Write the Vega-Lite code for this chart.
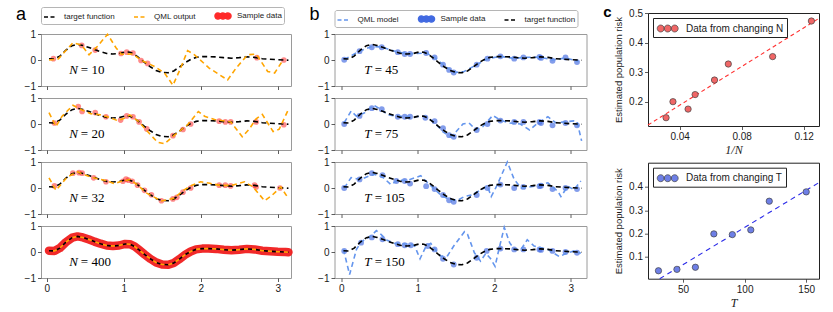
{
"$schema": "https://vega.github.io/schema/vega-lite/v6.json",
"padding": {"left": 15, "top": 4, "right": 5, "bottom": 2},
"background": "white",
"config": {
  "font": "Liberation Sans",
  "view": {"stroke": "#9a9a9a", "strokeWidth": 1},
  "axis": {"labelFont": "Liberation Sans", "labelFontSize": 10, "labelColor": "#1a1a1a", "tickColor": "#333333", "tickSize": 3.5, "tickWidth": 0.8, "domain": false, "grid": false, "labelPadding": 2, "titleColor": "#1a1a1a", "labelOverlap": false, "labelFlush": false},
  "legend": {"labelFont": "Liberation Sans", "labelColor": "#1a1a1a"}
},
"datasets": {
  "target": [
    {"x":0.03,"y":0.05,"s":"target function"},{"x":0.1,"y":0.04,"s":"target function"},{"x":0.17,"y":0.15,"s":"target function"},{"x":0.25,"y":0.38,"s":"target function"},{"x":0.33,"y":0.55,"s":"target function"},{"x":0.4,"y":0.6,"s":"target function"},{"x":0.47,"y":0.56,"s":"target function"},{"x":0.55,"y":0.48,"s":"target function"},{"x":0.62,"y":0.4,"s":"target function"},{"x":0.7,"y":0.32,"s":"target function"},{"x":0.78,"y":0.25,"s":"target function"},{"x":0.86,"y":0.23,"s":"target function"},{"x":0.94,"y":0.25,"s":"target function"},{"x":1.02,"y":0.31,"s":"target function"},{"x":1.08,"y":0.3,"s":"target function"},{"x":1.14,"y":0.22,"s":"target function"},{"x":1.2,"y":0.08,"s":"target function"},{"x":1.27,"y":-0.09,"s":"target function"},{"x":1.35,"y":-0.27,"s":"target function"},{"x":1.42,"y":-0.4,"s":"target function"},{"x":1.5,"y":-0.48,"s":"target function"},{"x":1.58,"y":-0.49,"s":"target function"},{"x":1.65,"y":-0.42,"s":"target function"},{"x":1.72,"y":-0.28,"s":"target function"},{"x":1.8,"y":-0.1,"s":"target function"},{"x":1.87,"y":0.02,"s":"target function"},{"x":1.94,"y":0.1,"s":"target function"},{"x":2.02,"y":0.13,"s":"target function"},{"x":2.1,"y":0.13,"s":"target function"},{"x":2.2,"y":0.12,"s":"target function"},{"x":2.3,"y":0.09,"s":"target function"},{"x":2.4,"y":0.07,"s":"target function"},{"x":2.5,"y":0.09,"s":"target function"},{"x":2.6,"y":0.12,"s":"target function"},{"x":2.7,"y":0.1,"s":"target function"},{"x":2.8,"y":0.05,"s":"target function"},{"x":2.9,"y":0.03,"s":"target function"},{"x":3.0,"y":0.01,"s":"target function"},{"x":3.1,"y":0.0,"s":"target function"},{"x":3.14,"y":-0.01,"s":"target function"}
  ],
  "aq": [
    {"p":"N10","x":0.03,"y":0.0,"s":"QML output"},{"p":"N10","x":0.15,"y":0.04,"s":"QML output"},{"p":"N10","x":0.34,"y":0.66,"s":"QML output"},{"p":"N10","x":0.45,"y":0.58,"s":"QML output"},{"p":"N10","x":0.55,"y":0.2,"s":"QML output"},{"p":"N10","x":0.66,"y":0.53,"s":"QML output"},{"p":"N10","x":0.79,"y":0.99,"s":"QML output"},{"p":"N10","x":0.9,"y":0.47,"s":"QML output"},{"p":"N10","x":0.97,"y":0.22,"s":"QML output"},{"p":"N10","x":1.12,"y":0.23,"s":"QML output"},{"p":"N10","x":1.22,"y":0.0,"s":"QML output"},{"p":"N10","x":1.4,"y":-0.25,"s":"QML output"},{"p":"N10","x":1.53,"y":-0.5,"s":"QML output"},{"p":"N10","x":1.64,"y":-0.97,"s":"QML output"},{"p":"N10","x":1.74,"y":-0.31,"s":"QML output"},{"p":"N10","x":1.83,"y":0.36,"s":"QML output"},{"p":"N10","x":1.92,"y":0.2,"s":"QML output"},{"p":"N10","x":2.11,"y":-0.31,"s":"QML output"},{"p":"N10","x":2.35,"y":-0.77,"s":"QML output"},{"p":"N10","x":2.46,"y":-0.31,"s":"QML output"},{"p":"N10","x":2.61,"y":0.2,"s":"QML output"},{"p":"N10","x":2.72,"y":0.23,"s":"QML output"},{"p":"N10","x":2.87,"y":-0.44,"s":"QML output"},{"p":"N10","x":2.96,"y":-0.5,"s":"QML output"},{"p":"N10","x":3.07,"y":0.0,"s":"QML output"},
    {"p":"N20","x":0.03,"y":0.44,"s":"QML output"},{"p":"N20","x":0.12,"y":-0.1,"s":"QML output"},{"p":"N20","x":0.2,"y":0.3,"s":"QML output"},{"p":"N20","x":0.34,"y":0.72,"s":"QML output"},{"p":"N20","x":0.45,"y":0.55,"s":"QML output"},{"p":"N20","x":0.57,"y":0.4,"s":"QML output"},{"p":"N20","x":0.7,"y":0.35,"s":"QML output"},{"p":"N20","x":0.83,"y":0.24,"s":"QML output"},{"p":"N20","x":0.92,"y":0.13,"s":"QML output"},{"p":"N20","x":1.0,"y":0.21,"s":"QML output"},{"p":"N20","x":1.08,"y":0.35,"s":"QML output"},{"p":"N20","x":1.2,"y":0.08,"s":"QML output"},{"p":"N20","x":1.31,"y":-0.29,"s":"QML output"},{"p":"N20","x":1.44,"y":-0.7,"s":"QML output"},{"p":"N20","x":1.53,"y":-0.76,"s":"QML output"},{"p":"N20","x":1.66,"y":-0.43,"s":"QML output"},{"p":"N20","x":1.83,"y":-0.03,"s":"QML output"},{"p":"N20","x":1.97,"y":0.48,"s":"QML output"},{"p":"N20","x":2.05,"y":0.3,"s":"QML output"},{"p":"N20","x":2.18,"y":0.17,"s":"QML output"},{"p":"N20","x":2.39,"y":0.08,"s":"QML output"},{"p":"N20","x":2.54,"y":-0.49,"s":"QML output"},{"p":"N20","x":2.63,"y":-0.2,"s":"QML output"},{"p":"N20","x":2.72,"y":0.2,"s":"QML output"},{"p":"N20","x":2.8,"y":0.37,"s":"QML output"},{"p":"N20","x":2.94,"y":-0.29,"s":"QML output"},{"p":"N20","x":3.02,"y":-0.2,"s":"QML output"},{"p":"N20","x":3.13,"y":0.5,"s":"QML output"},
    {"p":"N32","x":0.03,"y":0.39,"s":"QML output"},{"p":"N32","x":0.12,"y":-0.09,"s":"QML output"},{"p":"N32","x":0.27,"y":0.43,"s":"QML output"},{"p":"N32","x":0.4,"y":0.62,"s":"QML output"},{"p":"N32","x":0.5,"y":0.5,"s":"QML output"},{"p":"N32","x":0.6,"y":0.4,"s":"QML output"},{"p":"N32","x":0.75,"y":0.3,"s":"QML output"},{"p":"N32","x":0.88,"y":0.17,"s":"QML output"},{"p":"N32","x":0.98,"y":0.27,"s":"QML output"},{"p":"N32","x":1.08,"y":0.32,"s":"QML output"},{"p":"N32","x":1.18,"y":0.12,"s":"QML output"},{"p":"N32","x":1.3,"y":-0.2,"s":"QML output"},{"p":"N32","x":1.49,"y":-0.5,"s":"QML output"},{"p":"N32","x":1.65,"y":-0.4,"s":"QML output"},{"p":"N32","x":1.77,"y":-0.1,"s":"QML output"},{"p":"N32","x":1.88,"y":0.1,"s":"QML output"},{"p":"N32","x":2.0,"y":0.24,"s":"QML output"},{"p":"N32","x":2.12,"y":0.18,"s":"QML output"},{"p":"N32","x":2.25,"y":0.1,"s":"QML output"},{"p":"N32","x":2.4,"y":0.1,"s":"QML output"},{"p":"N32","x":2.57,"y":0.24,"s":"QML output"},{"p":"N32","x":2.68,"y":0.04,"s":"QML output"},{"p":"N32","x":2.83,"y":-0.49,"s":"QML output"},{"p":"N32","x":2.92,"y":-0.3,"s":"QML output"},{"p":"N32","x":3.04,"y":0.04,"s":"QML output"},{"p":"N32","x":3.13,"y":-0.36,"s":"QML output"}
  ],
  "ap": [
    {"p":"N10","x":0.087,"y":0.05,"s":"Sample data"},{"p":"N10","x":0.455,"y":0.56,"s":"Sample data"},{"p":"N10","x":0.63,"y":0.38,"s":"Sample data"},{"p":"N10","x":0.965,"y":0.25,"s":"Sample data"},{"p":"N10","x":1.04,"y":0.3,"s":"Sample data"},{"p":"N10","x":1.12,"y":0.27,"s":"Sample data"},{"p":"N10","x":1.225,"y":-0.02,"s":"Sample data"},{"p":"N10","x":1.31,"y":-0.13,"s":"Sample data"},{"p":"N10","x":2.73,"y":0.09,"s":"Sample data"},{"p":"N10","x":3.08,"y":0.0,"s":"Sample data"},
    {"p":"N20","x":0.1,"y":0.04,"s":"Sample data"},{"p":"N20","x":0.41,"y":0.67,"s":"Sample data"},{"p":"N20","x":0.46,"y":0.48,"s":"Sample data"},{"p":"N20","x":0.63,"y":0.44,"s":"Sample data"},{"p":"N20","x":0.77,"y":0.28,"s":"Sample data"},{"p":"N20","x":0.96,"y":0.15,"s":"Sample data"},{"p":"N20","x":1.04,"y":0.31,"s":"Sample data"},{"p":"N20","x":1.12,"y":0.28,"s":"Sample data"},{"p":"N20","x":1.2,"y":0.08,"s":"Sample data"},{"p":"N20","x":1.3,"y":-0.19,"s":"Sample data"},{"p":"N20","x":1.64,"y":-0.45,"s":"Sample data"},{"p":"N20","x":1.77,"y":-0.21,"s":"Sample data"},{"p":"N20","x":1.87,"y":0.0,"s":"Sample data"},{"p":"N20","x":2.24,"y":0.11,"s":"Sample data"},{"p":"N20","x":2.32,"y":0.08,"s":"Sample data"},{"p":"N20","x":2.39,"y":0.08,"s":"Sample data"},{"p":"N20","x":2.72,"y":0.08,"s":"Sample data"},{"p":"N20","x":3.08,"y":-0.03,"s":"Sample data"},
    {"p":"N32","x":0.1,"y":0.08,"s":"Sample data"},{"p":"N32","x":0.34,"y":0.57,"s":"Sample data"},{"p":"N32","x":0.42,"y":0.59,"s":"Sample data"},{"p":"N32","x":0.46,"y":0.57,"s":"Sample data"},{"p":"N32","x":0.61,"y":0.39,"s":"Sample data"},{"p":"N32","x":0.77,"y":0.24,"s":"Sample data"},{"p":"N32","x":0.99,"y":0.26,"s":"Sample data"},{"p":"N32","x":1.03,"y":0.34,"s":"Sample data"},{"p":"N32","x":1.06,"y":0.3,"s":"Sample data"},{"p":"N32","x":1.11,"y":0.26,"s":"Sample data"},{"p":"N32","x":1.18,"y":0.11,"s":"Sample data"},{"p":"N32","x":1.27,"y":-0.09,"s":"Sample data"},{"p":"N32","x":1.36,"y":-0.26,"s":"Sample data"},{"p":"N32","x":1.49,"y":-0.49,"s":"Sample data"},{"p":"N32","x":1.64,"y":-0.42,"s":"Sample data"},{"p":"N32","x":1.69,"y":-0.36,"s":"Sample data"},{"p":"N32","x":1.77,"y":-0.16,"s":"Sample data"},{"p":"N32","x":1.87,"y":0.0,"s":"Sample data"},{"p":"N32","x":2.24,"y":0.11,"s":"Sample data"},{"p":"N32","x":2.32,"y":0.11,"s":"Sample data"},{"p":"N32","x":2.39,"y":0.08,"s":"Sample data"},{"p":"N32","x":2.7,"y":0.11,"s":"Sample data"},{"p":"N32","x":2.72,"y":0.04,"s":"Sample data"},{"p":"N32","x":3.03,"y":0.0,"s":"Sample data"}
  ],
  "bq": [
    {"p":"T45","x":0.04,"y":0.02,"s":"QML model"},{"p":"T45","x":0.24,"y":0.34,"s":"QML model"},{"p":"T45","x":0.4,"y":0.52,"s":"QML model"},{"p":"T45","x":0.53,"y":0.5,"s":"QML model"},{"p":"T45","x":0.74,"y":0.3,"s":"QML model"},{"p":"T45","x":0.9,"y":0.24,"s":"QML model"},{"p":"T45","x":1.11,"y":0.27,"s":"QML model"},{"p":"T45","x":1.22,"y":0.1,"s":"QML model"},{"p":"T45","x":1.33,"y":-0.18,"s":"QML model"},{"p":"T45","x":1.47,"y":-0.48,"s":"QML model"},{"p":"T45","x":1.6,"y":-0.45,"s":"QML model"},{"p":"T45","x":1.77,"y":-0.18,"s":"QML model"},{"p":"T45","x":1.91,"y":0.05,"s":"QML model"},{"p":"T45","x":2.08,"y":0.14,"s":"QML model"},{"p":"T45","x":2.26,"y":0.06,"s":"QML model"},{"p":"T45","x":2.38,"y":0.1,"s":"QML model"},{"p":"T45","x":2.6,"y":0.11,"s":"QML model"},{"p":"T45","x":2.76,"y":0.0,"s":"QML model"},{"p":"T45","x":2.93,"y":0.08,"s":"QML model"},{"p":"T45","x":3.1,"y":-0.06,"s":"QML model"},
    {"p":"T75","x":0.04,"y":0.05,"s":"QML model"},{"p":"T75","x":0.13,"y":0.5,"s":"QML model"},{"p":"T75","x":0.2,"y":0.3,"s":"QML model"},{"p":"T75","x":0.3,"y":0.42,"s":"QML model"},{"p":"T75","x":0.43,"y":0.72,"s":"QML model"},{"p":"T75","x":0.52,"y":0.55,"s":"QML model"},{"p":"T75","x":0.61,"y":0.35,"s":"QML model"},{"p":"T75","x":0.74,"y":0.3,"s":"QML model"},{"p":"T75","x":0.95,"y":0.28,"s":"QML model"},{"p":"T75","x":1.09,"y":0.3,"s":"QML model"},{"p":"T75","x":1.22,"y":0.05,"s":"QML model"},{"p":"T75","x":1.33,"y":-0.3,"s":"QML model"},{"p":"T75","x":1.43,"y":-0.49,"s":"QML model"},{"p":"T75","x":1.5,"y":-0.3,"s":"QML model"},{"p":"T75","x":1.59,"y":0.0,"s":"QML model"},{"p":"T75","x":1.67,"y":0.04,"s":"QML model"},{"p":"T75","x":1.76,"y":-0.23,"s":"QML model"},{"p":"T75","x":1.85,"y":-0.1,"s":"QML model"},{"p":"T75","x":1.98,"y":0.33,"s":"QML model"},{"p":"T75","x":2.08,"y":0.15,"s":"QML model"},{"p":"T75","x":2.2,"y":0.04,"s":"QML model"},{"p":"T75","x":2.34,"y":0.0,"s":"QML model"},{"p":"T75","x":2.46,"y":-0.23,"s":"QML model"},{"p":"T75","x":2.56,"y":0.02,"s":"QML model"},{"p":"T75","x":2.7,"y":0.28,"s":"QML model"},{"p":"T75","x":2.8,"y":0.05,"s":"QML model"},{"p":"T75","x":2.92,"y":0.08,"s":"QML model"},{"p":"T75","x":3.04,"y":0.12,"s":"QML model"},{"p":"T75","x":3.08,"y":0.1,"s":"QML model"},{"p":"T75","x":3.14,"y":-0.65,"s":"QML model"},
    {"p":"T105","x":0.04,"y":0.0,"s":"QML model"},{"p":"T105","x":0.13,"y":0.4,"s":"QML model"},{"p":"T105","x":0.25,"y":0.33,"s":"QML model"},{"p":"T105","x":0.43,"y":0.53,"s":"QML model"},{"p":"T105","x":0.55,"y":0.4,"s":"QML model"},{"p":"T105","x":0.65,"y":0.13,"s":"QML model"},{"p":"T105","x":0.74,"y":0.3,"s":"QML model"},{"p":"T105","x":0.87,"y":0.3,"s":"QML model"},{"p":"T105","x":1.04,"y":0.47,"s":"QML model"},{"p":"T105","x":1.13,"y":0.2,"s":"QML model"},{"p":"T105","x":1.3,"y":-0.27,"s":"QML model"},{"p":"T105","x":1.43,"y":-0.47,"s":"QML model"},{"p":"T105","x":1.52,"y":-0.47,"s":"QML model"},{"p":"T105","x":1.61,"y":-0.33,"s":"QML model"},{"p":"T105","x":1.7,"y":-0.27,"s":"QML model"},{"p":"T105","x":1.83,"y":-0.07,"s":"QML model"},{"p":"T105","x":1.91,"y":0.07,"s":"QML model"},{"p":"T105","x":1.96,"y":-0.33,"s":"QML model"},{"p":"T105","x":2.03,"y":0.07,"s":"QML model"},{"p":"T105","x":2.17,"y":1.0,"s":"QML model"},{"p":"T105","x":2.26,"y":0.33,"s":"QML model"},{"p":"T105","x":2.35,"y":0.0,"s":"QML model"},{"p":"T105","x":2.52,"y":0.07,"s":"QML model"},{"p":"T105","x":2.7,"y":0.2,"s":"QML model"},{"p":"T105","x":2.83,"y":-0.13,"s":"QML model"},{"p":"T105","x":2.87,"y":-0.33,"s":"QML model"},{"p":"T105","x":2.96,"y":0.07,"s":"QML model"},{"p":"T105","x":3.04,"y":-0.07,"s":"QML model"},{"p":"T105","x":3.13,"y":0.27,"s":"QML model"},
    {"p":"T150","x":0.03,"y":0.1,"s":"QML model"},{"p":"T150","x":0.11,"y":-0.87,"s":"QML model"},{"p":"T150","x":0.2,"y":0.1,"s":"QML model"},{"p":"T150","x":0.26,"y":0.39,"s":"QML model"},{"p":"T150","x":0.39,"y":0.62,"s":"QML model"},{"p":"T150","x":0.46,"y":0.82,"s":"QML model"},{"p":"T150","x":0.52,"y":0.68,"s":"QML model"},{"p":"T150","x":0.6,"y":0.45,"s":"QML model"},{"p":"T150","x":0.7,"y":0.33,"s":"QML model"},{"p":"T150","x":0.91,"y":0.3,"s":"QML model"},{"p":"T150","x":0.96,"y":0.23,"s":"QML model"},{"p":"T150","x":1.03,"y":-0.26,"s":"QML model"},{"p":"T150","x":1.11,"y":0.23,"s":"QML model"},{"p":"T150","x":1.17,"y":0.33,"s":"QML model"},{"p":"T150","x":1.24,"y":0.05,"s":"QML model"},{"p":"T150","x":1.3,"y":-0.16,"s":"QML model"},{"p":"T150","x":1.39,"y":-0.14,"s":"QML model"},{"p":"T150","x":1.47,"y":0.23,"s":"QML model"},{"p":"T150","x":1.61,"y":0.78,"s":"QML model"},{"p":"T150","x":1.65,"y":0.68,"s":"QML model"},{"p":"T150","x":1.74,"y":-0.03,"s":"QML model"},{"p":"T150","x":1.82,"y":-0.35,"s":"QML model"},{"p":"T150","x":1.89,"y":-0.05,"s":"QML model"},{"p":"T150","x":1.95,"y":-0.25,"s":"QML model"},{"p":"T150","x":2.01,"y":-0.55,"s":"QML model"},{"p":"T150","x":2.06,"y":0.1,"s":"QML model"},{"p":"T150","x":2.13,"y":0.95,"s":"QML model"},{"p":"T150","x":2.2,"y":0.36,"s":"QML model"},{"p":"T150","x":2.26,"y":0.1,"s":"QML model"},{"p":"T150","x":2.35,"y":0.1,"s":"QML model"},{"p":"T150","x":2.43,"y":0.47,"s":"QML model"},{"p":"T150","x":2.52,"y":0.23,"s":"QML model"},{"p":"T150","x":2.7,"y":0.1,"s":"QML model"},{"p":"T150","x":2.85,"y":-0.18,"s":"QML model"},{"p":"T150","x":2.94,"y":-0.05,"s":"QML model"},{"p":"T150","x":3.04,"y":0.04,"s":"QML model"},{"p":"T150","x":3.13,"y":-0.05,"s":"QML model"}
  ],
  "bp": [
    {"p":"T45","x":0.04,"y":0.01,"s":"Sample data"},{"p":"T45","x":0.24,"y":0.34,"s":"Sample data"},{"p":"T45","x":0.4,"y":0.49,"s":"Sample data"},{"p":"T45","x":0.53,"y":0.49,"s":"Sample data"},{"p":"T45","x":0.74,"y":0.3,"s":"Sample data"},{"p":"T45","x":0.83,"y":0.23,"s":"Sample data"},{"p":"T45","x":0.9,"y":0.23,"s":"Sample data"},{"p":"T45","x":1.11,"y":0.27,"s":"Sample data"},{"p":"T45","x":1.22,"y":0.1,"s":"Sample data"},{"p":"T45","x":1.33,"y":-0.18,"s":"Sample data"},{"p":"T45","x":1.41,"y":-0.38,"s":"Sample data"},{"p":"T45","x":1.47,"y":-0.48,"s":"Sample data"},{"p":"T45","x":1.77,"y":-0.18,"s":"Sample data"},{"p":"T45","x":1.91,"y":0.05,"s":"Sample data"},{"p":"T45","x":2.08,"y":0.14,"s":"Sample data"},{"p":"T45","x":2.26,"y":0.05,"s":"Sample data"},{"p":"T45","x":2.38,"y":0.1,"s":"Sample data"},{"p":"T45","x":2.59,"y":0.12,"s":"Sample data"},{"p":"T45","x":2.61,"y":0.08,"s":"Sample data"},{"p":"T45","x":2.76,"y":-0.03,"s":"Sample data"},{"p":"T45","x":2.93,"y":0.1,"s":"Sample data"},{"p":"T45","x":3.08,"y":-0.08,"s":"Sample data"},
    {"p":"T75","x":0.04,"y":0.0,"s":"Sample data"},{"p":"T75","x":0.24,"y":0.31,"s":"Sample data"},{"p":"T75","x":0.4,"y":0.61,"s":"Sample data"},{"p":"T75","x":0.53,"y":0.57,"s":"Sample data"},{"p":"T75","x":0.74,"y":0.28,"s":"Sample data"},{"p":"T75","x":0.83,"y":0.28,"s":"Sample data"},{"p":"T75","x":0.9,"y":0.28,"s":"Sample data"},{"p":"T75","x":1.1,"y":0.24,"s":"Sample data"},{"p":"T75","x":1.22,"y":0.11,"s":"Sample data"},{"p":"T75","x":1.33,"y":-0.16,"s":"Sample data"},{"p":"T75","x":1.41,"y":-0.43,"s":"Sample data"},{"p":"T75","x":1.47,"y":-0.49,"s":"Sample data"},{"p":"T75","x":1.77,"y":-0.23,"s":"Sample data"},{"p":"T75","x":1.91,"y":0.0,"s":"Sample data"},{"p":"T75","x":2.08,"y":0.13,"s":"Sample data"},{"p":"T75","x":2.26,"y":0.08,"s":"Sample data"},{"p":"T75","x":2.38,"y":0.08,"s":"Sample data"},{"p":"T75","x":2.59,"y":0.08,"s":"Sample data"},{"p":"T75","x":2.61,"y":0.04,"s":"Sample data"},{"p":"T75","x":2.76,"y":-0.05,"s":"Sample data"},{"p":"T75","x":2.93,"y":0.04,"s":"Sample data"},{"p":"T75","x":3.08,"y":-0.05,"s":"Sample data"},
    {"p":"T105","x":0.04,"y":0.0,"s":"Sample data"},{"p":"T105","x":0.24,"y":0.33,"s":"Sample data"},{"p":"T105","x":0.4,"y":0.57,"s":"Sample data"},{"p":"T105","x":0.54,"y":0.49,"s":"Sample data"},{"p":"T105","x":0.72,"y":0.27,"s":"Sample data"},{"p":"T105","x":0.83,"y":0.27,"s":"Sample data"},{"p":"T105","x":0.9,"y":0.17,"s":"Sample data"},{"p":"T105","x":1.11,"y":0.07,"s":"Sample data"},{"p":"T105","x":1.22,"y":-0.04,"s":"Sample data"},{"p":"T105","x":1.33,"y":-0.27,"s":"Sample data"},{"p":"T105","x":1.41,"y":-0.47,"s":"Sample data"},{"p":"T105","x":1.47,"y":-0.53,"s":"Sample data"},{"p":"T105","x":1.77,"y":-0.27,"s":"Sample data"},{"p":"T105","x":1.91,"y":0.0,"s":"Sample data"},{"p":"T105","x":2.08,"y":0.13,"s":"Sample data"},{"p":"T105","x":2.26,"y":0.0,"s":"Sample data"},{"p":"T105","x":2.38,"y":0.04,"s":"Sample data"},{"p":"T105","x":2.59,"y":0.07,"s":"Sample data"},{"p":"T105","x":2.61,"y":0.09,"s":"Sample data"},{"p":"T105","x":2.76,"y":-0.04,"s":"Sample data"},{"p":"T105","x":2.93,"y":0.0,"s":"Sample data"},{"p":"T105","x":3.08,"y":-0.04,"s":"Sample data"},
    {"p":"T150","x":0.04,"y":0.04,"s":"Sample data"},{"p":"T150","x":0.26,"y":0.36,"s":"Sample data"},{"p":"T150","x":0.4,"y":0.56,"s":"Sample data"},{"p":"T150","x":0.54,"y":0.49,"s":"Sample data"},{"p":"T150","x":0.74,"y":0.3,"s":"Sample data"},{"p":"T150","x":0.83,"y":0.26,"s":"Sample data"},{"p":"T150","x":0.91,"y":0.26,"s":"Sample data"},{"p":"T150","x":1.13,"y":0.23,"s":"Sample data"},{"p":"T150","x":1.22,"y":0.1,"s":"Sample data"},{"p":"T150","x":1.33,"y":-0.26,"s":"Sample data"},{"p":"T150","x":1.47,"y":-0.48,"s":"Sample data"},{"p":"T150","x":1.77,"y":-0.22,"s":"Sample data"},{"p":"T150","x":1.9,"y":0.04,"s":"Sample data"},{"p":"T150","x":2.08,"y":0.13,"s":"Sample data"},{"p":"T150","x":2.26,"y":0.1,"s":"Sample data"},{"p":"T150","x":2.38,"y":0.1,"s":"Sample data"},{"p":"T150","x":2.59,"y":0.1,"s":"Sample data"},{"p":"T150","x":2.61,"y":0.08,"s":"Sample data"},{"p":"T150","x":2.76,"y":0.04,"s":"Sample data"},{"p":"T150","x":2.93,"y":0.0,"s":"Sample data"},{"p":"T150","x":3.08,"y":-0.03,"s":"Sample data"}
  ],
  "c1": [
    {"x":0.03125,"y":0.147,"s":"Data from changing N"},{"x":0.0357,"y":0.201,"s":"Data from changing N"},{"x":0.04545,"y":0.176,"s":"Data from changing N"},{"x":0.05,"y":0.225,"s":"Data from changing N"},{"x":0.0625,"y":0.274,"s":"Data from changing N"},{"x":0.0714,"y":0.328,"s":"Data from changing N"},{"x":0.1,"y":0.353,"s":"Data from changing N"},{"x":0.125,"y":0.473,"s":"Data from changing N"}
  ],
  "c1fit": [{"x":0.0196,"y":0.1225},{"x":0.1299,"y":0.482}],
  "c2": [
    {"x":30,"y":0.041,"s":"Data from changing T"},{"x":45,"y":0.047,"s":"Data from changing T"},{"x":60,"y":0.056,"s":"Data from changing T"},{"x":75,"y":0.199,"s":"Data from changing T"},{"x":90,"y":0.196,"s":"Data from changing T"},{"x":105,"y":0.216,"s":"Data from changing T"},{"x":120,"y":0.339,"s":"Data from changing T"},{"x":150,"y":0.379,"s":"Data from changing T"}
  ],
  "c2fit": [{"x":31,"y":0.007},{"x":160.4,"y":0.419}],
  "one": [{"k": 1}],
  "none": []
},
"spacing": 14.5,
"resolve": {"scale": {"color": "independent", "x": "independent", "y": "independent"}, "legend": {"color": "independent"}, "axis": {"x": "independent", "y": "independent"}},
"hconcat": [
  {
    "resolve": {"scale": {"color": "independent", "x": "independent", "y": "independent"}, "legend": {"color": "independent"}, "axis": {"x": "independent", "y": "independent"}},
    "vconcat": [
      {"width": 250, "height": 8.7, "view": {"stroke": null}, "data": {"name": "none"}, "mark": {"type": "point", "opacity": 0}},
      {
        "width": 250, "height": 52,
        "layer": [
          {"data": {"name": "ap"}, "transform": [{"filter": "datum.p == 'N10'"}],
           "mark": {"type": "circle", "size": 32, "opacity": 0.55},
           "encoding": {
             "x": {"field": "x", "type": "quantitative", "scale": {"domain": [-0.074, 3.173], "nice": false, "zero": false}, "axis": {"values": [0, 1, 2, 3], "tickCount": 20, "labels": false, "title": null}},
             "y": {"field": "y", "type": "quantitative", "scale": {"domain": [-1, 1], "nice": false, "zero": false}, "axis": {"values": [-1, 0, 1], "tickCount": 20, "labelExpr": "datum.value > 0.5 ? '1' : datum.value < -0.5 ? '−1' : '0'", "labelOverlap": false, "title": null}},
             "color": {"field": "s", "type": "nominal", "scale": {"domain": ["target function", "QML output", "Sample data"], "range": ["#000000", "#FFA500", "#FF2A2A"]},
               "legend": {"orient": "top", "direction": "horizontal", "title": null, "labelFontSize": 8, "symbolSize": 144, "labelOffset": 7, "columnPadding": 16, "padding": 2, "strokeColor": "#b5b5b5", "cornerRadius": 2, "offset": 7, "symbolStrokeWidth": 1.5,
                 "encoding": {"symbols": {
                   "shape": {"value": {"expr": "datum.value == 'Sample data' ? 'M-1.33,0a0.5,0.5 0 1,0 1,0a0.5,0.5 0 1,0 -1,0M-0.5,0a0.5,0.5 0 1,0 1,0a0.5,0.5 0 1,0 -1,0M0.33,0a0.5,0.5 0 1,0 1,0a0.5,0.5 0 1,0 -1,0' : 'stroke'"}},
                   "fill": {"value": {"expr": "datum.value == 'Sample data' ? '#ff7575' : 'transparent'"}},
                   "stroke": {"value": {"expr": "datum.value == 'target function' ? '#000000' : datum.value == 'QML output' ? '#FFA500' : 'transparent'"}},
                   "strokeDash": {"value": {"expr": "datum.value == 'Sample data' ? [1, 0] : [4, 2.5]"}},
                   "opacity": {"value": 1}
                 }}}}
           }},
          {"data": {"name": "target"},
           "mark": {"type": "line", "strokeWidth": 1.6, "strokeDash": [5, 3.5]},
           "encoding": {
             "x": {"field": "x", "type": "quantitative"},
             "y": {"field": "y", "type": "quantitative"},
             "color": {"field": "s", "type": "nominal"}
           }},
          {"data": {"name": "aq"}, "transform": [{"filter": "datum.p == 'N10'"}],
           "mark": {"type": "line", "strokeWidth": 1.6, "strokeDash": [5, 3.5]},
           "encoding": {
             "x": {"field": "x", "type": "quantitative"},
             "y": {"field": "y", "type": "quantitative"},
             "color": {"field": "s", "type": "nominal"}
           }},
          {"data": {"name": "one"}, "mark": {"type": "text", "text": "N", "font": "Liberation Serif", "fontStyle": "italic", "fontSize": 13, "align": "left", "baseline": "alphabetic"},
           "encoding": {"x": {"datum": 0.294}, "y": {"datum": -0.55}}},
          {"data": {"name": "one"}, "mark": {"type": "text", "text": "= 10", "font": "Liberation Serif", "fontSize": 13, "align": "left", "baseline": "alphabetic", "dx": 11.5},
           "encoding": {"x": {"datum": 0.294}, "y": {"datum": -0.55}}},
          {"data": {"name": "one"}, "mark": {"type": "text", "text": "a", "fontSize": 18, "align": "left", "baseline": "alphabetic"},
           "encoding": {"x": {"datum": -0.398}, "y": {"datum": 1.554}}}
        ]
      },
      {
        "width": 250, "height": 52,
        "layer": [
          {"data": {"name": "ap"}, "transform": [{"filter": "datum.p == 'N20'"}],
           "mark": {"type": "circle", "size": 32, "opacity": 0.55, "color": "#FF2A2A"},
           "encoding": {
             "x": {"field": "x", "type": "quantitative", "scale": {"domain": [-0.074, 3.173], "nice": false, "zero": false}, "axis": {"values": [0, 1, 2, 3], "tickCount": 20, "labels": false, "title": null}},
             "y": {"field": "y", "type": "quantitative", "scale": {"domain": [-1, 1], "nice": false, "zero": false}, "axis": {"values": [-1, 0, 1], "tickCount": 20, "labelExpr": "datum.value > 0.5 ? '1' : datum.value < -0.5 ? '−1' : '0'", "labelOverlap": false, "title": null}}
           }},
          {"data": {"name": "target"},
           "mark": {"type": "line", "strokeWidth": 1.6, "strokeDash": [5, 3.5], "color": "#000000"},
           "encoding": {"x": {"field": "x", "type": "quantitative"}, "y": {"field": "y", "type": "quantitative"}}},
          {"data": {"name": "aq"}, "transform": [{"filter": "datum.p == 'N20'"}],
           "mark": {"type": "line", "strokeWidth": 1.6, "strokeDash": [5, 3.5], "color": "#FFA500"},
           "encoding": {"x": {"field": "x", "type": "quantitative"}, "y": {"field": "y", "type": "quantitative"}}},
          {"data": {"name": "one"}, "mark": {"type": "text", "text": "N", "font": "Liberation Serif", "fontStyle": "italic", "fontSize": 13, "align": "left", "baseline": "alphabetic"},
           "encoding": {"x": {"datum": 0.294}, "y": {"datum": -0.55}}},
          {"data": {"name": "one"}, "mark": {"type": "text", "text": "= 20", "font": "Liberation Serif", "fontSize": 13, "align": "left", "baseline": "alphabetic", "dx": 11.5},
           "encoding": {"x": {"datum": 0.294}, "y": {"datum": -0.55}}}
        ]
      },
      {
        "width": 250, "height": 52,
        "layer": [
          {"data": {"name": "ap"}, "transform": [{"filter": "datum.p == 'N32'"}],
           "mark": {"type": "circle", "size": 32, "opacity": 0.55, "color": "#FF2A2A"},
           "encoding": {
             "x": {"field": "x", "type": "quantitative", "scale": {"domain": [-0.074, 3.173], "nice": false, "zero": false}, "axis": {"values": [0, 1, 2, 3], "tickCount": 20, "labels": false, "title": null}},
             "y": {"field": "y", "type": "quantitative", "scale": {"domain": [-1, 1], "nice": false, "zero": false}, "axis": {"values": [-1, 0, 1], "tickCount": 20, "labelExpr": "datum.value > 0.5 ? '1' : datum.value < -0.5 ? '−1' : '0'", "labelOverlap": false, "title": null}}
           }},
          {"data": {"name": "target"},
           "mark": {"type": "line", "strokeWidth": 1.6, "strokeDash": [5, 3.5], "color": "#000000"},
           "encoding": {"x": {"field": "x", "type": "quantitative"}, "y": {"field": "y", "type": "quantitative"}}},
          {"data": {"name": "aq"}, "transform": [{"filter": "datum.p == 'N32'"}],
           "mark": {"type": "line", "strokeWidth": 1.6, "strokeDash": [5, 3.5], "color": "#FFA500"},
           "encoding": {"x": {"field": "x", "type": "quantitative"}, "y": {"field": "y", "type": "quantitative"}}},
          {"data": {"name": "one"}, "mark": {"type": "text", "text": "N", "font": "Liberation Serif", "fontStyle": "italic", "fontSize": 13, "align": "left", "baseline": "alphabetic"},
           "encoding": {"x": {"datum": 0.294}, "y": {"datum": -0.55}}},
          {"data": {"name": "one"}, "mark": {"type": "text", "text": "= 32", "font": "Liberation Serif", "fontSize": 13, "align": "left", "baseline": "alphabetic", "dx": 11.5},
           "encoding": {"x": {"datum": 0.294}, "y": {"datum": -0.55}}}
        ]
      },
      {
        "width": 250, "height": 52,
        "layer": [
          {"data": {"name": "target"},
           "mark": {"type": "line", "strokeWidth": 8.5, "color": "#F01E1E", "strokeCap": "round", "strokeJoin": "round", "opacity": 0.95},
           "encoding": {
             "x": {"field": "x", "type": "quantitative", "scale": {"domain": [-0.074, 3.173], "nice": false, "zero": false}, "axis": {"values": [0, 1, 2, 3], "tickCount": 20, "format": "d", "title": null}},
             "y": {"field": "y", "type": "quantitative", "scale": {"domain": [-1, 1], "nice": false, "zero": false}, "axis": {"values": [-1, 0, 1], "tickCount": 20, "labelExpr": "datum.value > 0.5 ? '1' : datum.value < -0.5 ? '−1' : '0'", "labelOverlap": false, "title": null}}
           }},
          {"data": {"name": "target"},
           "mark": {"type": "line", "strokeWidth": 1.6, "strokeDash": [4, 4], "color": "#000000"},
           "encoding": {"x": {"field": "x", "type": "quantitative"}, "y": {"field": "y", "type": "quantitative"}}},
          {"data": {"name": "target"},
           "mark": {"type": "line", "strokeWidth": 1.6, "strokeDash": [4, 4], "strokeDashOffset": 4, "color": "#FFA500"},
           "encoding": {"x": {"field": "x", "type": "quantitative"}, "y": {"field": "y", "type": "quantitative"}}},
          {"data": {"name": "one"}, "mark": {"type": "text", "text": "N", "font": "Liberation Serif", "fontStyle": "italic", "fontSize": 13, "align": "left", "baseline": "alphabetic"},
           "encoding": {"x": {"datum": 0.294}, "y": {"datum": -0.55}}},
          {"data": {"name": "one"}, "mark": {"type": "text", "text": "= 400", "font": "Liberation Serif", "fontSize": 13, "align": "left", "baseline": "alphabetic", "dx": 11.5},
           "encoding": {"x": {"datum": 0.294}, "y": {"datum": -0.55}}}
        ]
      }
    ],
    "spacing": 12,
    "bounds": "flush"
  },
  {
    "resolve": {"scale": {"color": "independent", "x": "independent", "y": "independent"}, "legend": {"color": "independent"}, "axis": {"x": "independent", "y": "independent"}},
    "vconcat": [
      {"width": 252, "height": 8.7, "view": {"stroke": null}, "data": {"name": "none"}, "mark": {"type": "point", "opacity": 0}},
      {
        "width": 252, "height": 52,
        "layer": [
          {"data": {"name": "bp"}, "transform": [{"filter": "datum.p == 'T45'"}],
           "mark": {"type": "circle", "size": 34, "opacity": 0.65},
           "encoding": {
             "x": {"field": "x", "type": "quantitative", "scale": {"domain": [-0.087, 3.204], "nice": false, "zero": false}, "axis": {"values": [0, 1, 2, 3], "tickCount": 20, "labels": false, "title": null}},
             "y": {"field": "y", "type": "quantitative", "scale": {"domain": [-1, 1], "nice": false, "zero": false}, "axis": {"values": [-1, 0, 1], "tickCount": 20, "labelExpr": "datum.value > 0.5 ? '1' : datum.value < -0.5 ? '−1' : '0'", "labelOverlap": false, "title": null}},
             "color": {"field": "s", "type": "nominal", "scale": {"domain": ["QML model", "Sample data", "target function"], "range": ["#6495ED", "#4169E1", "#000000"]},
               "legend": {"orient": "top", "direction": "horizontal", "title": null, "labelFontSize": 8, "symbolSize": 144, "labelOffset": 7, "columnPadding": 16, "padding": 2, "strokeColor": "#b5b5b5", "cornerRadius": 2, "offset": 7, "symbolStrokeWidth": 1.5,
                 "encoding": {"symbols": {
                   "shape": {"value": {"expr": "datum.value == 'Sample data' ? 'M-1.33,0a0.5,0.5 0 1,0 1,0a0.5,0.5 0 1,0 -1,0M-0.5,0a0.5,0.5 0 1,0 1,0a0.5,0.5 0 1,0 -1,0M0.33,0a0.5,0.5 0 1,0 1,0a0.5,0.5 0 1,0 -1,0' : 'stroke'"}},
                   "fill": {"value": {"expr": "datum.value == 'Sample data' ? '#7f98ea' : 'transparent'"}},
                   "stroke": {"value": {"expr": "datum.value == 'target function' ? '#000000' : datum.value == 'QML model' ? '#6495ED' : 'transparent'"}},
                   "strokeDash": {"value": {"expr": "datum.value == 'Sample data' ? [1, 0] : [4, 2.5]"}},
                   "opacity": {"value": 1}
                 }}}}
           }},
          {"data": {"name": "bq"}, "transform": [{"filter": "datum.p == 'T45'"}],
           "mark": {"type": "line", "strokeWidth": 1.6, "strokeDash": [5, 3.5]},
           "encoding": {
             "x": {"field": "x", "type": "quantitative"},
             "y": {"field": "y", "type": "quantitative"},
             "color": {"field": "s", "type": "nominal"}
           }},
          {"data": {"name": "target"},
           "mark": {"type": "line", "strokeWidth": 1.6, "strokeDash": [5, 3.5]},
           "encoding": {
             "x": {"field": "x", "type": "quantitative"},
             "y": {"field": "y", "type": "quantitative"},
             "color": {"field": "s", "type": "nominal"}
           }},
          {"data": {"name": "one"}, "mark": {"type": "text", "text": "T", "font": "Liberation Serif", "fontStyle": "italic", "fontSize": 13, "align": "left", "baseline": "alphabetic"},
           "encoding": {"x": {"datum": 0.3}, "y": {"datum": -0.55}}},
          {"data": {"name": "one"}, "mark": {"type": "text", "text": "= 45", "font": "Liberation Serif", "fontSize": 13, "align": "left", "baseline": "alphabetic", "dx": 10.5},
           "encoding": {"x": {"datum": 0.3}, "y": {"datum": -0.55}}},
          {"data": {"name": "one"}, "mark": {"type": "text", "text": "b", "fontSize": 18, "align": "left", "baseline": "alphabetic"},
           "encoding": {"x": {"datum": -0.413}, "y": {"datum": 1.554}}}
        ]
      },
      {
        "width": 252, "height": 52,
        "layer": [
          {"data": {"name": "bp"}, "transform": [{"filter": "datum.p == 'T75'"}],
           "mark": {"type": "circle", "size": 34, "opacity": 0.65, "color": "#4169E1"},
           "encoding": {
             "x": {"field": "x", "type": "quantitative", "scale": {"domain": [-0.087, 3.204], "nice": false, "zero": false}, "axis": {"values": [0, 1, 2, 3], "tickCount": 20, "labels": false, "title": null}},
             "y": {"field": "y", "type": "quantitative", "scale": {"domain": [-1, 1], "nice": false, "zero": false}, "axis": {"values": [-1, 0, 1], "tickCount": 20, "labelExpr": "datum.value > 0.5 ? '1' : datum.value < -0.5 ? '−1' : '0'", "labelOverlap": false, "title": null}}
           }},
          {"data": {"name": "bq"}, "transform": [{"filter": "datum.p == 'T75'"}],
           "mark": {"type": "line", "strokeWidth": 1.6, "strokeDash": [5, 3.5], "color": "#6495ED"},
           "encoding": {"x": {"field": "x", "type": "quantitative"}, "y": {"field": "y", "type": "quantitative"}}},
          {"data": {"name": "target"},
           "mark": {"type": "line", "strokeWidth": 1.6, "strokeDash": [5, 3.5], "color": "#000000"},
           "encoding": {"x": {"field": "x", "type": "quantitative"}, "y": {"field": "y", "type": "quantitative"}}},
          {"data": {"name": "one"}, "mark": {"type": "text", "text": "T", "font": "Liberation Serif", "fontStyle": "italic", "fontSize": 13, "align": "left", "baseline": "alphabetic"},
           "encoding": {"x": {"datum": 0.3}, "y": {"datum": -0.55}}},
          {"data": {"name": "one"}, "mark": {"type": "text", "text": "= 75", "font": "Liberation Serif", "fontSize": 13, "align": "left", "baseline": "alphabetic", "dx": 10.5},
           "encoding": {"x": {"datum": 0.3}, "y": {"datum": -0.55}}}
        ]
      },
      {
        "width": 252, "height": 52,
        "layer": [
          {"data": {"name": "bp"}, "transform": [{"filter": "datum.p == 'T105'"}],
           "mark": {"type": "circle", "size": 34, "opacity": 0.65, "color": "#4169E1"},
           "encoding": {
             "x": {"field": "x", "type": "quantitative", "scale": {"domain": [-0.087, 3.204], "nice": false, "zero": false}, "axis": {"values": [0, 1, 2, 3], "tickCount": 20, "labels": false, "title": null}},
             "y": {"field": "y", "type": "quantitative", "scale": {"domain": [-1, 1], "nice": false, "zero": false}, "axis": {"values": [-1, 0, 1], "tickCount": 20, "labelExpr": "datum.value > 0.5 ? '1' : datum.value < -0.5 ? '−1' : '0'", "labelOverlap": false, "title": null}}
           }},
          {"data": {"name": "bq"}, "transform": [{"filter": "datum.p == 'T105'"}],
           "mark": {"type": "line", "strokeWidth": 1.6, "strokeDash": [5, 3.5], "color": "#6495ED"},
           "encoding": {"x": {"field": "x", "type": "quantitative"}, "y": {"field": "y", "type": "quantitative"}}},
          {"data": {"name": "target"},
           "mark": {"type": "line", "strokeWidth": 1.6, "strokeDash": [5, 3.5], "color": "#000000"},
           "encoding": {"x": {"field": "x", "type": "quantitative"}, "y": {"field": "y", "type": "quantitative"}}},
          {"data": {"name": "one"}, "mark": {"type": "text", "text": "T", "font": "Liberation Serif", "fontStyle": "italic", "fontSize": 13, "align": "left", "baseline": "alphabetic"},
           "encoding": {"x": {"datum": 0.3}, "y": {"datum": -0.55}}},
          {"data": {"name": "one"}, "mark": {"type": "text", "text": "= 105", "font": "Liberation Serif", "fontSize": 13, "align": "left", "baseline": "alphabetic", "dx": 10.5},
           "encoding": {"x": {"datum": 0.3}, "y": {"datum": -0.55}}}
        ]
      },
      {
        "width": 252, "height": 52,
        "layer": [
          {"data": {"name": "bp"}, "transform": [{"filter": "datum.p == 'T150'"}],
           "mark": {"type": "circle", "size": 34, "opacity": 0.65, "color": "#4169E1"},
           "encoding": {
             "x": {"field": "x", "type": "quantitative", "scale": {"domain": [-0.087, 3.204], "nice": false, "zero": false}, "axis": {"values": [0, 1, 2, 3], "tickCount": 20, "format": "d", "title": null}},
             "y": {"field": "y", "type": "quantitative", "scale": {"domain": [-1, 1], "nice": false, "zero": false}, "axis": {"values": [-1, 0, 1], "tickCount": 20, "labelExpr": "datum.value > 0.5 ? '1' : datum.value < -0.5 ? '−1' : '0'", "labelOverlap": false, "title": null}}
           }},
          {"data": {"name": "bq"}, "transform": [{"filter": "datum.p == 'T150'"}],
           "mark": {"type": "line", "strokeWidth": 1.6, "strokeDash": [5, 3.5], "color": "#6495ED"},
           "encoding": {"x": {"field": "x", "type": "quantitative"}, "y": {"field": "y", "type": "quantitative"}}},
          {"data": {"name": "target"},
           "mark": {"type": "line", "strokeWidth": 1.6, "strokeDash": [5, 3.5], "color": "#000000"},
           "encoding": {"x": {"field": "x", "type": "quantitative"}, "y": {"field": "y", "type": "quantitative"}}},
          {"data": {"name": "one"}, "mark": {"type": "text", "text": "T", "font": "Liberation Serif", "fontStyle": "italic", "fontSize": 13, "align": "left", "baseline": "alphabetic"},
           "encoding": {"x": {"datum": 0.3}, "y": {"datum": -0.55}}},
          {"data": {"name": "one"}, "mark": {"type": "text", "text": "= 150", "font": "Liberation Serif", "fontSize": 13, "align": "left", "baseline": "alphabetic", "dx": 10.5},
           "encoding": {"x": {"datum": 0.3}, "y": {"datum": -0.55}}}
        ]
      }
    ],
    "spacing": 12,
    "bounds": "flush"
  },
  {
    "resolve": {"scale": {"color": "independent", "x": "independent", "y": "independent"}, "legend": {"color": "independent"}, "axis": {"x": "independent", "y": "independent"}},
    "vconcat": [
      {
        "width": 171, "height": 113,
        "view": {"stroke": "#222222"},
        "layer": [
          {"data": {"name": "c1fit"},
           "mark": {"type": "line", "color": "#ff3030", "strokeWidth": 1.1, "strokeDash": [4, 3]},
           "encoding": {
             "x": {"field": "x", "type": "quantitative", "scale": {"domain": [0.0196, 0.1299], "nice": false, "zero": false}, "axis": {"values": [0.04, 0.08, 0.12], "tickCount": 20, "format": ".2f", "labelOverlap": false, "title": "1/N", "titleFont": "Liberation Serif", "titleFontStyle": "italic", "titleFontSize": 12, "titleFontWeight": "normal", "titlePadding": 3}},
             "y": {"field": "y", "type": "quantitative", "scale": {"domain": [0.119, 0.5], "nice": false, "zero": false}, "axis": {"values": [0.2, 0.3, 0.4, 0.5], "tickCount": 20, "format": ".1f", "labelOverlap": false, "title": "Estimated population risk", "titleFontSize": 9.5, "titleFontWeight": "normal", "titlePadding": 5}}
           }},
          {"data": {"name": "c1"},
           "mark": {"type": "circle", "size": 40, "opacity": 1, "stroke": "#444444", "strokeWidth": 0.7},
           "encoding": {
             "x": {"field": "x", "type": "quantitative"},
             "y": {"field": "y", "type": "quantitative"},
             "color": {"field": "s", "type": "nominal", "scale": {"domain": ["Data from changing N"], "range": ["#F06666"]},
               "legend": {"orient": "top-left", "title": null, "labelFontSize": 10, "symbolSize": 196, "labelOffset": 15, "padding": 3, "strokeColor": "#222222", "fillColor": "white", "offset": 5, "cornerRadius": 0,
                 "encoding": {"symbols": {
                   "shape": {"value": "M-0.9,0a0.5,0.5 0 1,0 1,0a0.5,0.5 0 1,0 -1,0M0.1,0a0.5,0.5 0 1,0 1,0a0.5,0.5 0 1,0 -1,0M1.1,0a0.5,0.5 0 1,0 1,0a0.5,0.5 0 1,0 -1,0"},
                   "fill": {"value": "#F06666"}, "stroke": {"value": "#444444"}, "strokeWidth": {"value": 0.7}, "opacity": {"value": 1}
                 }}}}
           }},
          {"data": {"name": "one"}, "mark": {"type": "text", "text": "c", "fontSize": 15, "fontWeight": "bold", "align": "left", "baseline": "alphabetic"},
           "encoding": {"x": {"datum": -0.0092}, "y": {"datum": 0.4866}}}
        ]
      },
      {
        "width": 171, "height": 116,
        "view": {"stroke": "#222222"},
        "layer": [
          {"data": {"name": "c2fit"},
           "mark": {"type": "line", "color": "#2a2ae8", "strokeWidth": 1.1, "strokeDash": [5, 4]},
           "encoding": {
             "x": {"field": "x", "type": "quantitative", "scale": {"domain": [21.5, 160.4], "nice": false, "zero": false}, "axis": {"values": [50, 100, 150], "tickCount": 20, "labelOverlap": false, "title": "T", "titleFont": "Liberation Serif", "titleFontStyle": "italic", "titleFontSize": 12, "titleFontWeight": "normal", "titlePadding": 3}},
             "y": {"field": "y", "type": "quantitative", "scale": {"domain": [0.007, 0.504], "nice": false, "zero": false}, "axis": {"values": [0.1, 0.2, 0.3, 0.4], "tickCount": 20, "format": ".1f", "labelOverlap": false, "title": "Estimated population risk", "titleFontSize": 9.5, "titleFontWeight": "normal", "titlePadding": 5}}
           }},
          {"data": {"name": "c2"},
           "mark": {"type": "circle", "size": 40, "opacity": 1, "stroke": "#444444", "strokeWidth": 0.7},
           "encoding": {
             "x": {"field": "x", "type": "quantitative"},
             "y": {"field": "y", "type": "quantitative"},
             "color": {"field": "s", "type": "nominal", "scale": {"domain": ["Data from changing T"], "range": ["#6E7FE6"]},
               "legend": {"orient": "top-left", "title": null, "labelFontSize": 10, "symbolSize": 196, "labelOffset": 15, "padding": 3, "strokeColor": "#222222", "fillColor": "white", "offset": 5, "cornerRadius": 0,
                 "encoding": {"symbols": {
                   "shape": {"value": "M-0.9,0a0.5,0.5 0 1,0 1,0a0.5,0.5 0 1,0 -1,0M0.1,0a0.5,0.5 0 1,0 1,0a0.5,0.5 0 1,0 -1,0M1.1,0a0.5,0.5 0 1,0 1,0a0.5,0.5 0 1,0 -1,0"},
                   "fill": {"value": "#6E7FE6"}, "stroke": {"value": "#444444"}, "strokeWidth": {"value": 0.7}, "opacity": {"value": 1}
                 }}}}
           }}
        ]
      }
    ],
    "spacing": 36.7,
    "bounds": "flush"
  }
]
}
